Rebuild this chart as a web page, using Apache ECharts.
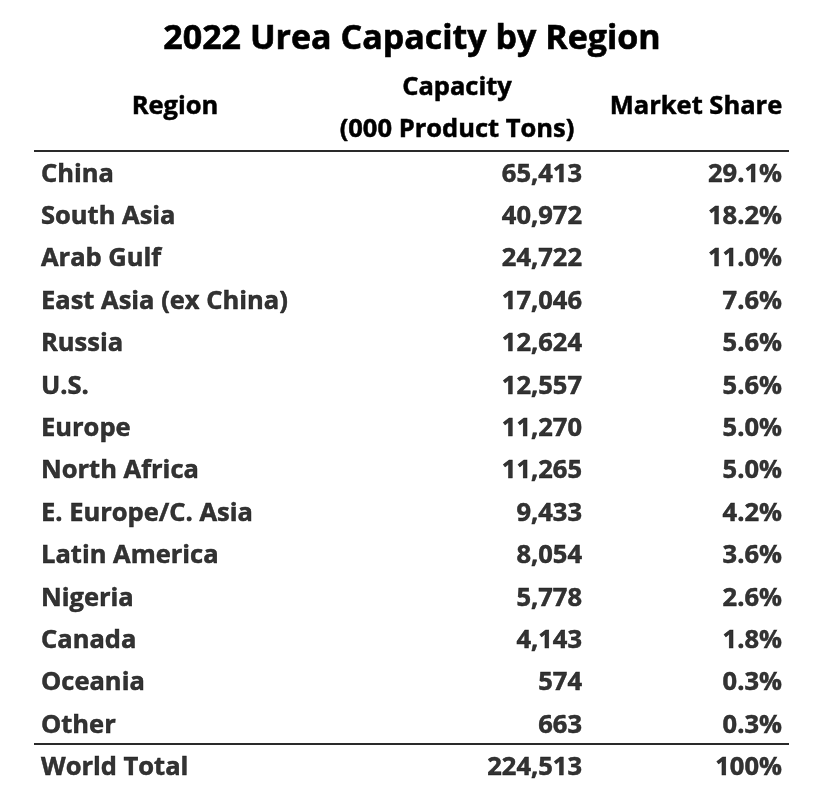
<!DOCTYPE html>
<html><head><meta charset="utf-8">
<script src="https://cdn.jsdelivr.net/npm/echarts@6/dist/echarts.min.js"></script>
<style>html,body{margin:0;padding:0;background:#fff}#c{width:824px;height:807px}</style>
</head><body><div id="c"></div>
<script>
const titleText = '2022 Urea Capacity by Region';
const headerRegion = 'Region';
const headerCapacity = ['Capacity', '(000 Product Tons)'];
const headerShare = 'Market Share';
const regions = ['China','South Asia','Arab Gulf','East Asia (ex China)','Russia','U.S.','Europe','North Africa','E. Europe/C. Asia','Latin America','Nigeria','Canada','Oceania','Other','World Total'];
const capacity = [65413,40972,24722,17046,12624,12557,11270,11265,9433,8054,5778,4143,574,663,224513];
const share = [29.1,18.2,11.0,7.6,5.6,5.6,5.0,5.0,4.2,3.6,2.6,1.8,0.3,0.3,100];

const FONT = 'Open Sans';
const ROW_SIZE = 25.5;
const TITLE_SIZE = 34;
const COLOR = '#000';
const colRegionX = 41, colCapX = 582, colShareX = 782;
const last = regions.length - 1;

function fmtCap(v){ return v.toLocaleString('en-US'); }
function fmtShare(v, i){ return i === last ? v + '%' : v.toFixed(1) + '%'; }

const baseLabel = {show:true, position:'inside', color:COLOR, fontFamily:FONT, fontWeight:'bold', fontSize:ROW_SIZE, verticalAlign:'middle', textBorderColor:COLOR, textBorderWidth:0.5};

function textSeries(x, align, fmt){
  return {
    type:'scatter', symbolSize:1, itemStyle:{color:'rgba(0,0,0,0)'}, silent:true,
    data: regions.map((r,i)=>({value:[x,i]})),
    label: Object.assign({}, baseLabel, {align:align, formatter: p => fmt(p.dataIndex)})
  };
}

const chart = echarts.init(document.getElementById('c'));
const s1 = textSeries(colRegionX, 'left', i => regions[i]);
s1.markLine = {
  silent:true, symbol:'none', label:{show:false},
  lineStyle:{color:'#2a2a2a', width:2, type:'solid'},
  data:[{yAxis:-0.56},{yAxis:last-0.56}]
};
function hdr(text, x, y){
  return {type:'text', x:x, y:y, style:{text:text, align:'center', verticalAlign:'middle', fill:COLOR, stroke:COLOR, lineWidth:0.5, font:'bold '+ROW_SIZE+'px "'+FONT+'"'}};
}
chart.setOption({
  animation:false,
  backgroundColor:'#fff',
  title:{text:titleText, left:'center', top:17, textStyle:{fontFamily:FONT, fontWeight:'bold', fontSize:TITLE_SIZE, color:COLOR, textBorderColor:COLOR, textBorderWidth:0.6}},
  grid:{left:34, right:35, top:149, bottom:18},
  xAxis:{type:'value', min:34, max:789, show:false},
  yAxis:{type:'value', inverse:true, min:-0.6, max:last+0.5, show:false},
  graphic:[
    hdr(headerRegion, 175, 107),
    hdr(headerCapacity[0], 457, 88),
    hdr(headerCapacity[1], 457, 130),
    hdr(headerShare, 696, 107)
  ],
  series:[
    s1,
    textSeries(colCapX, 'right', i => fmtCap(capacity[i])),
    textSeries(colShareX, 'right', i => fmtShare(share[i], i))
  ]
});
</script></body></html>
